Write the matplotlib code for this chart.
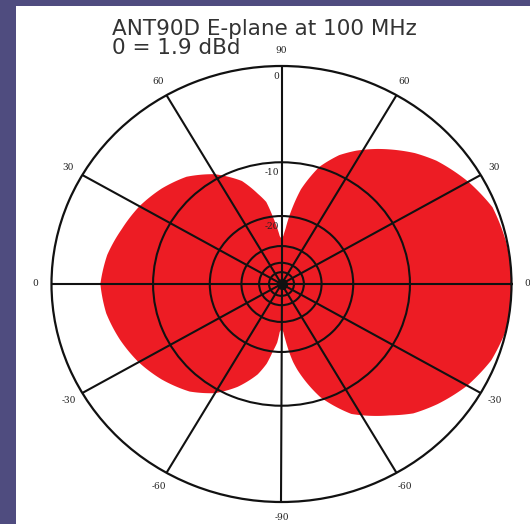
import numpy as np
import matplotlib
matplotlib.use('Agg')
import matplotlib.pyplot as plt
from matplotlib.patches import Rectangle

# pattern: angle (deg, ccw from right) and level in dB
pattern_deg = [0, 10, 21, 30, 40, 46, 56, 62, 67, 73, 79, 82, 86, 88, 90,
               92, 94, 97, 100, 104, 110, 120, 130, 140, 150, 160, 170, 180,
               190, 200, 210, 220, 231, 240, 248, 256, 260, 263, 266, 268, 270,
               272, 274, 278, 280, 288, 297, 308, 314, 321, 330, 339, 347, 353, 360]
pattern_db = [0.0, -0.05, -0.3, -1.1, -2.2, -3.1, -5.0, -6.3, -7.6, -9.9, -14.0, -17.5, -23.5, -26.0, -27.0,
              -26.0, -23.5, -20.0, -16.5, -14.6, -11.8, -9.3, -7.6, -6.6, -5.8, -5.2, -4.5, -4.1,
              -4.4, -5.0, -5.7, -6.6, -7.8, -9.4, -11.6, -14.6, -17.0, -20.0, -22.5, -26.0, -27.0,
              -26.0, -23.0, -17.5, -15.7, -10.4, -6.9, -4.6, -3.3, -2.3, -1.2, -0.4, -0.05, 0.0, 0.0]

ring_db = [-10, -20, -30, -40, -50]
ring_labels = ['-10', '-20']
spoke_deg = list(range(0, 360, 30))
spoke_labels = ['0', '30', '60', '90', '60', '30', '0', '-30', '-60', '-90', '-60', '-30']


def arrl(db):
    # ARRL log scale: 2 dB per factor 0.89
    return 0.89 ** (-np.asarray(db, dtype=float) / 2.0)


fig = plt.figure(figsize=(5.3, 5.24), dpi=100, facecolor='#4f4c7f')
fig.add_artist(Rectangle((16 / 530, 0), 1, 518 / 524, transform=fig.transFigure,
                         facecolor='white', edgecolor='none', zorder=-10))

ax = fig.add_axes([51.5 / 530, 22 / 524, 460 / 530, 436 / 524], projection='polar')
ax.set_aspect('auto')
ax.set_facecolor('white')

theta = np.deg2rad(pattern_deg)
poly = ax.fill(theta, arrl(pattern_db), color='#ed1c24', lw=0, zorder=1)[0]
# let the polar transform curve the edges between points
poly.get_path()._interpolation_steps = 24

ax.set_ylim(0, 1)
ax.set_yticks(arrl(ring_db))
ax.set_yticklabels([])
ax.set_thetagrids(spoke_deg, spoke_labels, fontsize=6.5, family='DejaVu Serif',
                  color='#222222')
ax.tick_params(axis='x', pad=1)
ax.grid(True, color='#111111', lw=1.5, ls='-')
ax.set_axisbelow(False)
for gl in ax.get_xgridlines() + ax.get_ygridlines():
    gl.set_zorder(3)
ax.spines['polar'].set_color('#111111')
ax.spines['polar'].set_linewidth(1.6)
ax.plot([0], [0], 'o', ms=7, color='#111111', zorder=4)

# radial labels along the 90 spoke
for txt, r in zip(['0'] + ring_labels, arrl([0] + ring_db[:2])):
    ax.annotate(txt, xy=(np.pi / 2, r), xytext=(-2, -4), textcoords='offset points',
                ha='right', va='top', fontsize=6.5, family='DejaVu Serif', color='#222222')

fig.text(112 / 530, 1 - 35 / 524, 'ANT90D E-plane at 100 MHz', fontsize=15.5,
         color='#333333', va='baseline', ha='left')
fig.text(112 / 530, 1 - 53.5 / 524, '0 = 1.9 dBd', fontsize=15.5,
         color='#333333', va='baseline', ha='left')

fig.savefig('out.png', dpi=100, facecolor=fig.get_facecolor())
